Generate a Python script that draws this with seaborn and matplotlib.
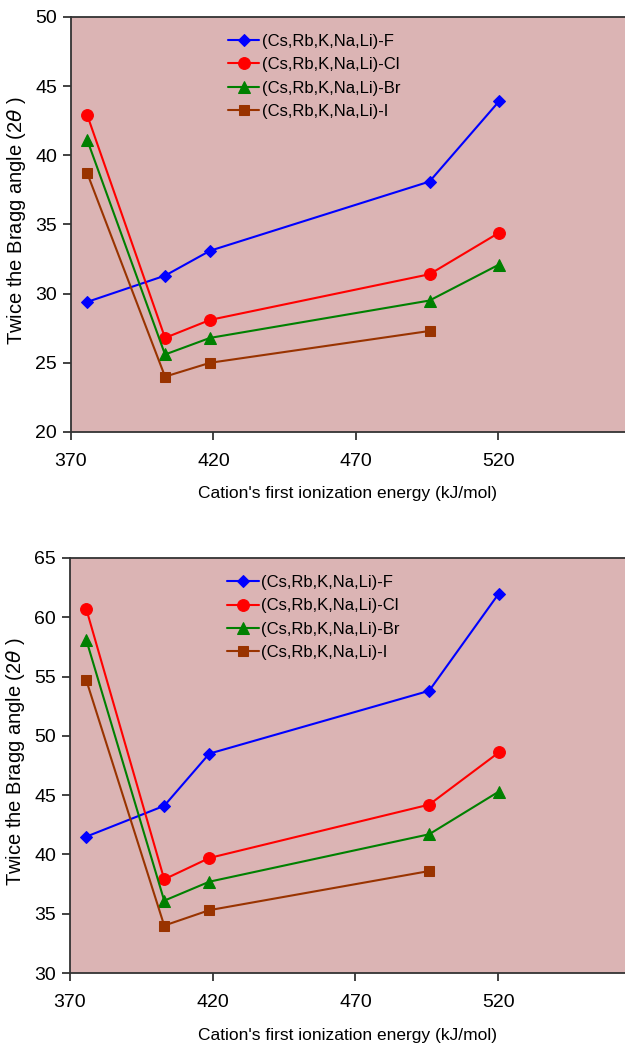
import numpy as np
import pandas as pd
import matplotlib
matplotlib.use("Agg")
import matplotlib.pyplot as plt
import seaborn as sns

# first ionization energies of Cs, Rb, K, Na, Li (kJ/mol)
ION_ENERGY = [375.7, 403.0, 418.8, 495.8, 520.2]
SERIES = ["(Cs,Rb,K,Na,Li)-F", "(Cs,Rb,K,Na,Li)-Cl",
          "(Cs,Rb,K,Na,Li)-Br", "(Cs,Rb,K,Na,Li)-I"]

# top panel
TOP_F = [29.4, 31.3, 33.1, 38.1, 43.9]
TOP_CL = [42.9, 26.8, 28.1, 31.4, 34.4]
TOP_BR = [41.1, 25.6, 26.8, 29.5, 32.1]
TOP_I = [38.7, 24.0, 25.0, 27.3, np.nan]

# bottom panel
BOT_F = [41.5, 44.1, 48.5, 53.8, 62.0]
BOT_CL = [60.7, 37.9, 39.7, 44.2, 48.6]
BOT_BR = [58.1, 36.1, 37.7, 41.7, 45.3]
BOT_I = [54.7, 34.0, 35.3, 38.6, np.nan]

COLORS = ["#0000ff", "#ff0000", "#008000", "#993300"]
MARKERS = ["D", "o", "^", "s"]
MSIZES = [6.5, 8.5, 8.5, 7.5]
BG = "#dbb4b4"


def make_df(values):
    rows = []
    for name, ys in zip(SERIES, values):
        for x, y in zip(ION_ENERGY, ys):
            if not np.isnan(y):
                rows.append({"energy": x, "angle": y, "series": name})
    return pd.DataFrame(rows)


def draw_panel(ax, df, ylim):
    ax.set_facecolor(BG)
    for name, color, marker, ms in zip(SERIES, COLORS, MARKERS, MSIZES):
        sub = df[df["series"] == name]
        sns.lineplot(data=sub, x="energy", y="angle", ax=ax, color=color,
                     marker=marker, markersize=ms, markeredgecolor=color,
                     linewidth=1.5, label=name)
    ax.set_xlim(370, 564.4)
    ax.set_ylim(*ylim)
    ax.set_xticks([370, 420, 470, 520])
    ax.set_yticks(np.arange(ylim[0], ylim[1] + 1, 5))
    ax.tick_params(axis="both", direction="out", length=6, width=1.2,
                   labelsize=14, color="#222222", labelcolor="black")
    ax.tick_params(axis="x", pad=9)
    ax.tick_params(axis="y", pad=4)
    for side in ["left", "bottom", "top"]:
        ax.spines[side].set_color("#333333")
        ax.spines[side].set_linewidth(1.3)
    ax.spines["right"].set_visible(False)
    ax.set_xlabel("Cation's first ionization energy (kJ/mol)", fontsize=12.5,
                  labelpad=12, color="black")
    ax.set_ylabel(r"Twice the Bragg angle (2$\theta$ )", fontsize=14.5,
                  color="black")
    ax.yaxis.set_label_coords(-0.077, 0.51)
    ax.legend(loc="upper left", bbox_to_anchor=(0.262, 0.987), frameon=False,
              fontsize=12, handlelength=1.9, handletextpad=0.15,
              labelspacing=0.5, borderaxespad=0.3, labelcolor="black")


sns.set_style("ticks")
plt.rcParams["font.family"] = ["Liberation Sans", "DejaVu Sans"]
plt.rcParams["mathtext.fontset"] = "dejavusans"

fig = plt.figure(figsize=(6.25, 10.51), dpi=100)
ax_top = fig.add_axes([0.1136, 0.589, 0.8864, 0.3949])
ax_bot = fig.add_axes([0.112, 0.0742, 0.888, 0.3949])

draw_panel(ax_top, make_df([TOP_F, TOP_CL, TOP_BR, TOP_I]), (20, 50))
draw_panel(ax_bot, make_df([BOT_F, BOT_CL, BOT_BR, BOT_I]), (30, 65))

fig.savefig("out.png", dpi=100)
plt.close(fig)
